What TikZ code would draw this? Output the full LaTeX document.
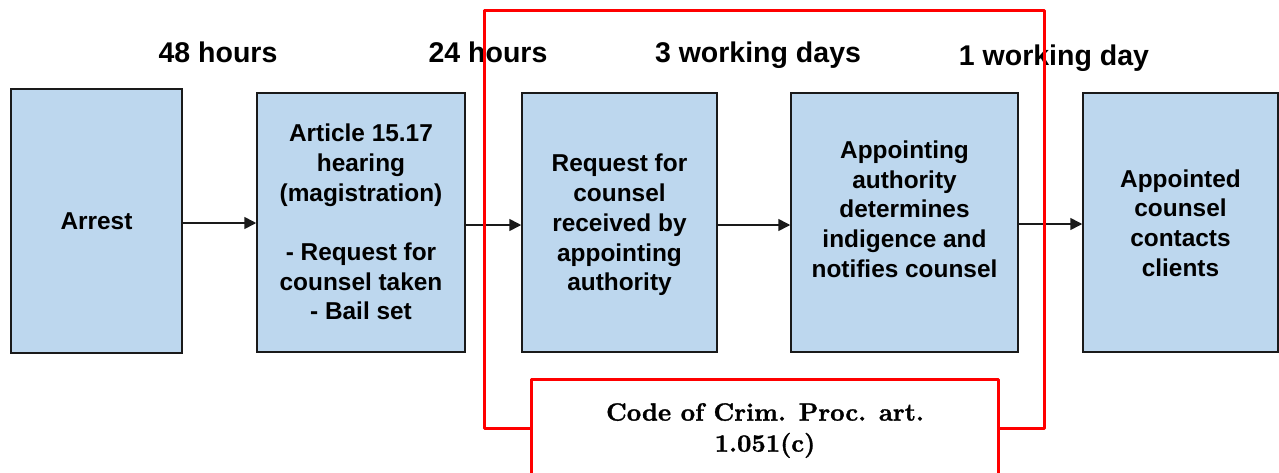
\documentclass[tikz,border=0pt]{standalone}
\usepackage{fontspec}
\newfontfamily\arialf{Liberation Sans}
\newfontfamily\codefont{lmroman10-bold}[Extension=.otf,FakeBold=1.2]
\usetikzlibrary{arrows.meta}
\definecolor{boxblue}{HTML}{BDD7EE}
\definecolor{boxline}{HTML}{1A1A1A}
\begin{document}
\begin{tikzpicture}[x=1pt,y=-1pt,
  stagebox/.style={draw=boxline,fill=boxblue,line width=1.5pt,inner sep=0pt},
  boxtext/.style={align=center,font=\arialf\bfseries\fontsize{24.4}{29.7}\selectfont,inner sep=0pt},
  timelabel/.style={font=\arialf\bfseries\fontsize{28.5}{32}\selectfont,inner sep=0pt,anchor=base},
  flow/.style={line width=1.6pt,draw=boxline,-{Triangle[length=12pt,width=12pt]}},
  redframe/.style={draw=red,line width=3pt,line join=round}]
\useasboundingbox (0,0) rectangle (1279,472);
\node[stagebox,minimum width=171pt,minimum height=264pt] (b1) at (96.5,221) {};
\node[stagebox,minimum width=208pt,minimum height=259pt] (b2) at (361,222.5) {};
\node[stagebox,minimum width=195pt,minimum height=259pt] (b3) at (619.5,222.5) {};
\node[stagebox,minimum width=227pt,minimum height=259pt] (b4) at (904.5,222.5) {};
\node[stagebox,minimum width=195pt,minimum height=259pt] (b5) at (1180.5,222.5) {};
\node[boxtext] (t1) at (96.5,221) {Arrest};
\node[boxtext] (t2) at (361,222) {Article 15.17\\hearing\\(magistration)\\[29.7pt]- Request for\\counsel taken\\- Bail set};
\node[boxtext] (t3) at (619.5,225) {Request for\\counsel\\received by\\appointing\\authority};
\node[boxtext] (t4) at (904.5,209) {Appointing\\authority\\determines\\indigence and\\notifies counsel};
\node[boxtext] (t5) at (1180.5,223) {Appointed\\counsel\\contacts\\clients};
\draw[flow] ([yshift=-2pt]b1.east) -- ([yshift=-2pt]b1.east -| b2.west);
\draw[flow] ([yshift=-2.5pt]b2.east) -- ([yshift=-2.5pt]b3.west);
\draw[flow] ([yshift=-2.5pt]b3.east) -- ([yshift=-2.5pt]b4.west);
\draw[flow] ([yshift=-1.5pt]b4.east) -- ([yshift=-1.5pt]b5.west);
\node[timelabel] (l1) at (218,62.5) {48 hours};
\node[timelabel] (l2) at (488,62.5) {24 hours};
\node[timelabel] (l3) at (758,62.5) {3 working days};
\node[timelabel] (l4) at (1054,65.5) {1 working day};
\draw[redframe] (484,10) rectangle (1044,428);
\draw[redframe,fill=white] (531,379) rectangle (998,490);
\node[align=center,inner sep=0pt,font=\codefont\fontsize{25}{31}\selectfont] (code) at (765,430.5) {Code of Crim. Proc. art.\\1.051(c)};
\end{tikzpicture}
\end{document}
